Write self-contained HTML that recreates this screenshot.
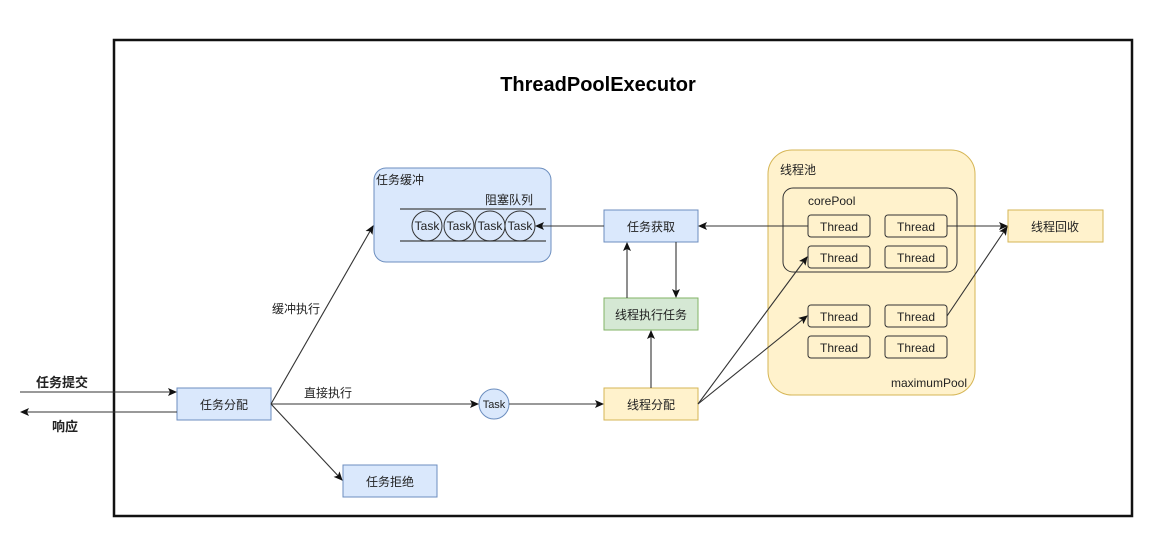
<!DOCTYPE html>
<html><head><meta charset="utf-8"><style>
html,body{margin:0;padding:0;background:#fff;}
svg{display:block;}
text{font-family:"Liberation Sans","Noto Sans CJK SC",sans-serif;font-size:12px;fill:#222;}
</style></head><body>
<svg width="1170" height="542" viewBox="0 0 1170 542" xmlns="http://www.w3.org/2000/svg">
<defs>
<marker id="a" markerWidth="10" markerHeight="10" refX="8" refY="5" orient="auto" markerUnits="userSpaceOnUse">
<path d="M0,1 L9,5 L0,9 L2,5 z" fill="#111"/></marker>
</defs>
<rect x="114" y="40" width="1018" height="476" fill="#fff" stroke="#111" stroke-width="2.5"/>
<text x="598" y="91" text-anchor="middle" style="font-size:20px;font-weight:bold;fill:#000">ThreadPoolExecutor</text>

<!-- buffer -->
<rect x="374" y="168" width="177" height="94" rx="12" fill="#dae8fc" stroke="#6c8ebf"/>
<text x="376" y="184">任务缓冲</text>
<text x="485" y="204">阻塞队列</text>
<line x1="400" y1="209" x2="546" y2="209" stroke="#444" stroke-width="1.2"/>
<line x1="400" y1="241" x2="546" y2="241" stroke="#444" stroke-width="1.2"/>
<g fill="none" stroke="#333" stroke-width="1">
<circle cx="427" cy="226" r="15"/><circle cx="459" cy="226" r="15"/><circle cx="490" cy="226" r="15"/><circle cx="520" cy="226" r="15"/>
</g>
<g text-anchor="middle"><text x="427" y="230">Task</text><text x="459" y="230">Task</text><text x="490" y="230">Task</text><text x="520" y="230">Task</text></g>

<!-- pool -->
<rect x="768" y="150" width="207" height="245" rx="24" fill="#fff2cc" stroke="#d6b656"/>
<text x="780" y="174">线程池</text>
<rect x="783" y="188" width="174" height="84" rx="10" fill="none" stroke="#333"/>
<text x="808" y="205">corePool</text>
<text x="967" y="387" text-anchor="end">maximumPool</text>
<g fill="#fff2cc" stroke="#333" stroke-width="1">
<rect x="808" y="215" width="62" height="22" rx="3"/><rect x="885" y="215" width="62" height="22" rx="3"/>
<rect x="808" y="246" width="62" height="22" rx="3"/><rect x="885" y="246" width="62" height="22" rx="3"/>
<rect x="808" y="305" width="62" height="22" rx="3"/><rect x="885" y="305" width="62" height="22" rx="3"/>
<rect x="808" y="336" width="62" height="22" rx="3"/><rect x="885" y="336" width="62" height="22" rx="3"/>
</g>
<g text-anchor="middle">
<text x="839" y="231">Thread</text><text x="916" y="231">Thread</text>
<text x="839" y="262">Thread</text><text x="916" y="262">Thread</text>
<text x="839" y="321">Thread</text><text x="916" y="321">Thread</text>
<text x="839" y="352">Thread</text><text x="916" y="352">Thread</text>
</g>

<!-- boxes -->
<rect x="1008" y="210" width="95" height="32" fill="#fff2cc" stroke="#d6b656"/>
<rect x="604" y="210" width="94" height="32" fill="#dae8fc" stroke="#6c8ebf"/>
<rect x="604" y="298" width="94" height="32" fill="#d5e8d4" stroke="#82b366"/>
<rect x="604" y="388" width="94" height="32" fill="#fff2cc" stroke="#d6b656"/>
<rect x="177" y="388" width="94" height="32" fill="#dae8fc" stroke="#6c8ebf"/>
<rect x="343" y="465" width="94" height="32" fill="#dae8fc" stroke="#6c8ebf"/>
<circle cx="494" cy="404" r="15" fill="#dae8fc" stroke="#6c8ebf"/>
<g text-anchor="middle">
<text x="1055" y="231">线程回收</text>
<text x="651" y="231">任务获取</text>
<text x="651" y="319">线程执行任务</text>
<text x="651" y="409">线程分配</text>
<text x="224" y="409">任务分配</text>
<text x="390" y="486">任务拒绝</text>
<text x="494" y="408" style="font-size:11px">Task</text>
</g>

<!-- connectors -->
<g stroke="#333" stroke-width="1.1" fill="none" marker-end="url(#a)">
<line x1="20" y1="392" x2="176" y2="392"/>
<line x1="177" y1="412" x2="21" y2="412"/>
<line x1="271" y1="404" x2="373" y2="226"/>
<line x1="271" y1="404" x2="342" y2="480"/>
<line x1="271" y1="404" x2="478" y2="404"/>
<line x1="509" y1="404" x2="603" y2="404"/>
<line x1="651" y1="388" x2="651" y2="331"/>
<line x1="627" y1="298" x2="627" y2="243"/>
<line x1="676" y1="242" x2="676" y2="297"/>
<line x1="604" y1="226" x2="536" y2="226"/>
<line x1="808" y1="226" x2="699" y2="226"/>
<line x1="698" y1="404" x2="807" y2="257"/>
<line x1="698" y1="404" x2="807" y2="316"/>
<line x1="947" y1="226" x2="1007" y2="226"/>
<line x1="947" y1="316" x2="1007" y2="227"/>
</g>
<text x="36" y="387" style="font-size:13px;font-weight:bold">任务提交</text>
<text x="52" y="431" style="font-size:13px;font-weight:bold">响应</text>
<text x="272" y="313">缓冲执行</text>
<text x="304" y="397">直接执行</text>
</svg>
</body></html>
